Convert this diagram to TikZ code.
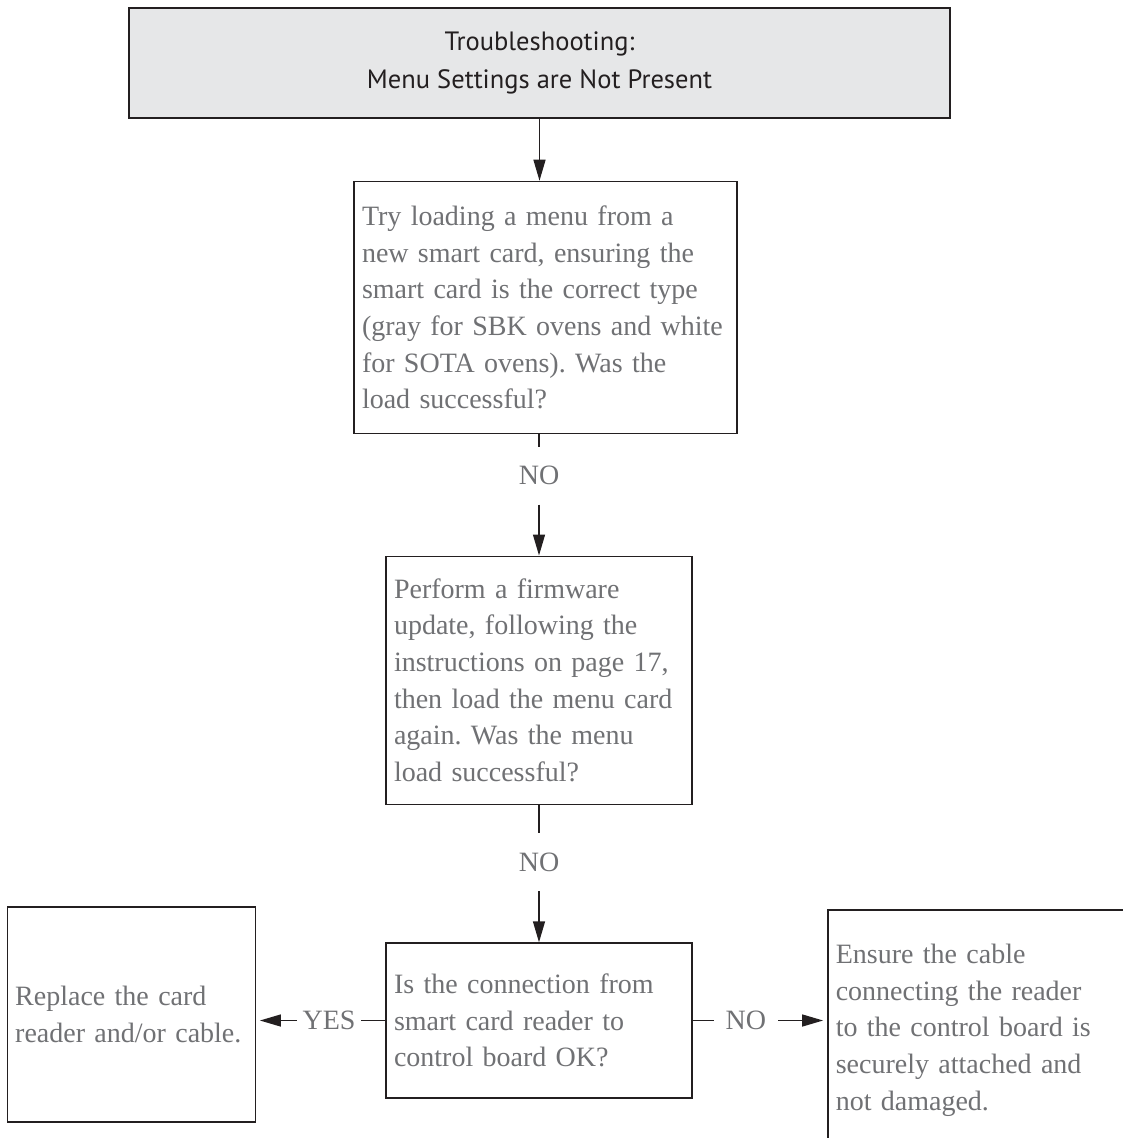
\documentclass[tikz,border=0pt]{standalone}
\usepackage{fontspec}
\usepackage{xcolor}
\usepackage{tikz}
\usetikzlibrary{arrows.meta,positioning}
\newfontfamily\bodyfont{Liberation Serif}
\newfontfamily\headfont{PT Sans}
\definecolor{txtgray}{RGB}{112,113,116}
\definecolor{inkdark}{RGB}{35,31,32}
\definecolor{headfill}{RGB}{230,231,232}
\frenchspacing
\hyphenpenalty=10000
\exhyphenpenalty=10000

\begin{document}
\begin{tikzpicture}[
  >={Triangle[length=21pt,width=12pt]},
  head/.style={draw=inkdark, line width=1.4pt, fill=headfill, text=inkdark,
               font=\headfont\fontsize{26.5}{38}\selectfont, align=center,
               minimum width=821pt, minimum height=110pt, inner sep=0pt},
  box/.style={draw=inkdark, line width=1.4pt, fill=white, text=txtgray,
              font=\bodyfont\fontsize{28}{36.7}\selectfont,
              align=left, inner xsep=8pt, inner ysep=0pt, text width=#1},
  lbl/.style={text=txtgray, font=\bodyfont\fontsize{28}{36.7}\selectfont,
              inner sep=0pt},
  arr/.style={->, line width=1.4pt, draw=inkdark},
  ln/.style={line width=1.4pt, draw=inkdark},
]
\path[use as bounding box] (0,0) rectangle (1123pt,-1138pt);
\clip (0,0) rectangle (1123pt,-1138pt);

%% ─── Main column ─────────────────────────────────────────────────────────────
\node[head] (title) at (539.5pt,-63pt)
  {Troubleshooting:\\Menu Settings are Not Present};

\node[box=367pt, minimum height=252pt, below=62pt of title, xshift=6pt] (tryload)
  {Try loading a menu from a\\new smart card, ensuring the\\smart card is the correct type\\(gray for SBK ovens and white\\for SOTA ovens). Was the\\load successful?};
\node[lbl, minimum height=57pt, below=13pt of tryload, xshift=-6.5pt] (no1) {NO};

\node[box=290pt, minimum height=248pt, below=51pt of no1] (firmware)
  {Perform a firmware\\update, following the\\instructions on page 17,\\then load the menu card\\again. Was the menu\\load successful?};
\node[lbl, minimum height=58pt, below=28pt of firmware] (no2) {NO};

\node[box=290pt, minimum height=155pt, below=51pt of no2] (conncheck)
  {Is the connection from\\smart card reader to\\control board OK?};

\draw[arr] (title.south) -- (title.south |- tryload.north);
\draw[ln]  (tryload.south -| no1.north) -- (no1.north);
\draw[arr] (no1.south) -- (firmware.north);
\draw[ln]  (firmware.south) -- (no2.north);
\draw[arr] (no2.south) -- (conncheck.north);

%% ─── Branches ────────────────────────────────────────────────────────────────
%% YES
\node[lbl, minimum width=64pt, left=24pt of conncheck] (yes) {YES};
\node[box=232pt, minimum height=215pt, left=41pt of yes, yshift=6pt] (replace)
  {Replace the card\\reader and/or cable.};
\draw[ln]  (conncheck.west) -- (yes.east);
\draw[arr, shorten >=4pt] (yes.west) -- (yes.west -| replace.east);

%% NO
\node[lbl, minimum width=64pt, right=21pt of conncheck] (no3) {NO};
\node[box=294pt, minimum height=240pt, right=49pt of no3, yshift=-9.5pt] (ensure)
  {Ensure the cable\\connecting the reader\\to the control board is\\securely attached and\\not damaged.};
\draw[ln]  (conncheck.east) -- (no3.west);
\draw[arr, shorten >=4pt] (no3.east) -- (no3.east -| ensure.west);

\end{tikzpicture}
\end{document}
